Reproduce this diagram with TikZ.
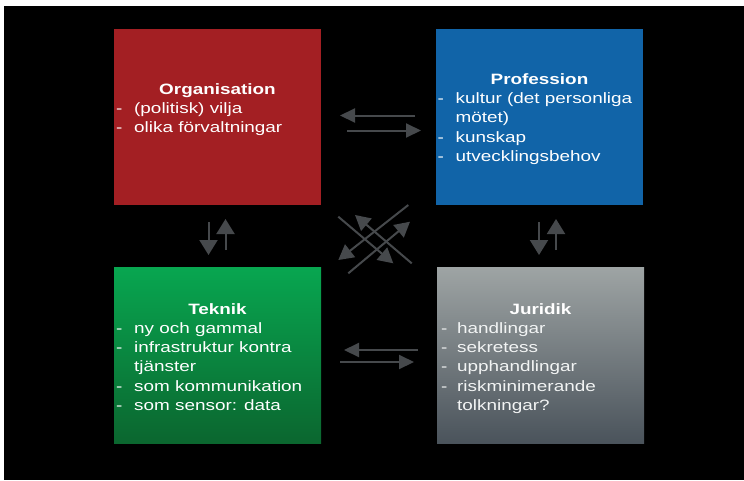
\documentclass[tikz,border=0pt]{standalone}
\usepackage{fontspec}
\setmainfont{Liberation Sans}[FakeStretch=1.26]
\usetikzlibrary{arrows.meta}

\definecolor{orgred}{RGB}{163,31,35}
\definecolor{profblue}{RGB}{17,100,168}
\definecolor{teknikTop}{RGB}{8,166,80}
\definecolor{teknikBot}{RGB}{11,102,47}
\definecolor{juridikTop}{RGB}{158,164,164}
\definecolor{juridikBot}{RGB}{74,83,91}
\definecolor{linkgray}{RGB}{70,73,76}
\definecolor{paletext}{RGB}{242,244,244}

% dash followed by a fixed gap before the list text
\newcommand\itemdash[1]{\makebox[#1][l]{-}}

\begin{document}
\begin{tikzpicture}[x=1pt,y=-1pt,
  area/.style={draw=none, minimum width=207pt, minimum height=176pt,
    inner sep=0pt, outer sep=0pt},
  heading/.style={font=\fontsize{15pt}{19pt}\selectfont\bfseries,
    text=white, inner sep=0pt, anchor=base},
  entry/.style={font=\fontsize{15pt}{19pt}\selectfont,
    text=white, inner sep=0pt, anchor=base west},
  link/.style={draw=linkgray, line width=2pt},
  hhead/.style={-{Triangle[length=15pt,width=14pt]}},
  vhead/.style={-{Triangle[length=15pt,width=18pt]}},
  dhead/.style={-{Triangle[length=15pt,width=16pt]}},
]
% page frame
\fill[white] (0,0) rectangle (744,480);
\fill[black] (4,6) rectangle (744,480);
\useasboundingbox (0,0) rectangle (744,480);

% the four areas
\node[area, fill=orgred] (org) at (217.5,117) {};
\node[area, fill=profblue] (prof) at (539.5,117) {};
\node[area, top color=teknikTop, bottom color=teknikBot] (tek) at (217.5,355.5) {};
\node[area, top color=juridikTop, bottom color=juridikBot] (jur) at (540.5,355.5) {};

% Organisation
\node[heading] (org-t) at (217.5,94.3) {Organisation};
\node[entry] (org-1) at (116,113.5) {\itemdash{18pt}(politisk) vilja};
\node[entry] (org-2) at (116,132.8) {\itemdash{18pt}olika förvaltningar};

% Profession
\node[heading] (prof-t) at (539.5,84.3) {Profession};
\node[entry] (prof-1) at (437.5,103.7) {\itemdash{18pt}kultur (det personliga};
\node[entry] (prof-1b) at (455.5,122.9) {mötet)};
\node[entry] (prof-2) at (437.5,142.1) {\itemdash{18pt}kunskap};
\node[entry] (prof-3) at (437.5,161.3) {\itemdash{18pt}utvecklingsbehov};

% Teknik
\node[heading] (tek-t) at (217.5,314) {Teknik};
\node[entry] (tek-1) at (116,333.5) {\itemdash{18pt}ny och gammal};
\node[entry] (tek-2) at (116,352.7) {\itemdash{18pt}infrastruktur kontra};
\node[entry] (tek-2b) at (134,371.9) {tjänster};
\node[entry] (tek-3) at (116,391.1) {\itemdash{18pt}som kommunikation};
\node[entry] (tek-4) at (116,410.3) {\itemdash{18pt}som sensor: data};

% Juridik
\node[heading] (jur-t) at (540.5,314.3) {Juridik};
\node[entry, text=paletext] (jur-1) at (441,333.5) {\itemdash{16pt}handlingar};
\node[entry, text=paletext] (jur-2) at (441,352.7) {\itemdash{16pt}sekretess};
\node[entry, text=paletext] (jur-3) at (441,371.9) {\itemdash{16pt}upphandlingar};
\node[entry, text=paletext] (jur-4) at (441,391.1) {\itemdash{16pt}riskminimerande};
\node[entry, text=paletext] (jur-4b) at (457,410.3) {tolkningar?};

% arrow end points
\coordinate (op-a) at (415,115.5);  \coordinate (op-b) at (340,115.5);
\coordinate (po-a) at (347,130.5);  \coordinate (po-b) at (421,130.5);
\coordinate (jt-a) at (418,350);    \coordinate (jt-b) at (344,350);
\coordinate (tj-a) at (340,362);    \coordinate (tj-b) at (414,362);
\coordinate (ot-a) at (208.5,222);  \coordinate (ot-b) at (208.5,255);
\coordinate (to-a) at (225.5,250);  \coordinate (to-b) at (225.5,219);
\coordinate (pj-a) at (539,222);    \coordinate (pj-b) at (539,255);
\coordinate (jp-a) at (556,250);    \coordinate (jp-b) at (556,219);
\coordinate (oj-a) at (338.3,216.7); \coordinate (oj-b) at (393.3,263.3);
\coordinate (jo-a) at (411.7,263.3); \coordinate (jo-b) at (355,215);
\coordinate (pt-a) at (408.3,205);   \coordinate (pt-b) at (338.3,260);
\coordinate (tp-a) at (348.3,273.3); \coordinate (tp-b) at (410,221.7);

% horizontal pairs
\draw[link, hhead] (op-a) -- (op-b);
\draw[link, hhead] (po-a) -- (po-b);
\draw[link, hhead] (jt-a) -- (jt-b);
\draw[link, hhead] (tj-a) -- (tj-b);
% vertical pairs
\draw[link, vhead] (ot-a) -- (ot-b);
\draw[link, vhead] (to-a) -- (to-b);
\draw[link, vhead] (pj-a) -- (pj-b);
\draw[link, vhead] (jp-a) -- (jp-b);
% diagonal cross
\draw[link, dhead] (oj-a) -- (oj-b);
\draw[link, dhead] (jo-a) -- (jo-b);
\draw[link, dhead] (pt-a) -- (pt-b);
\draw[link, dhead] (tp-a) -- (tp-b);
\end{tikzpicture}
\end{document}
